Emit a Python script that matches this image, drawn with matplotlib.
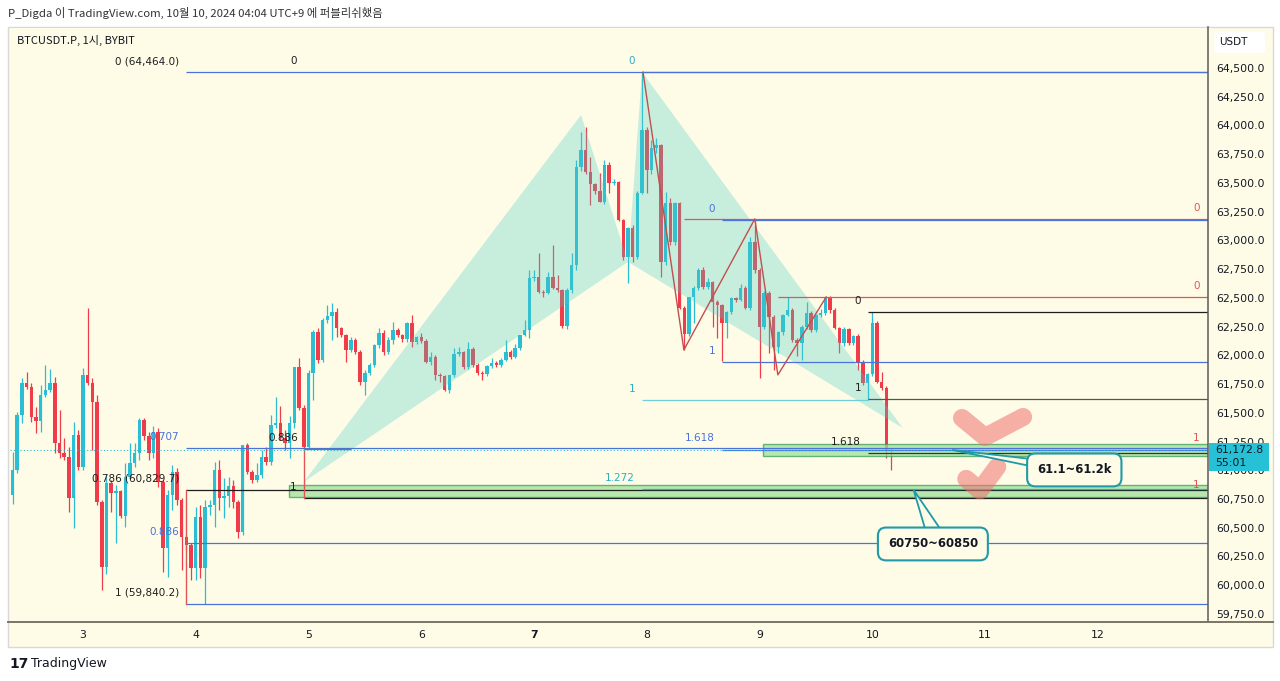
import matplotlib
matplotlib.use('Agg')
import matplotlib.pyplot as plt
import matplotlib.transforms as mtransforms
from matplotlib.patches import Rectangle, Polygon, FancyBboxPatch
import numpy as np

# ---------------- data (hourly candles, hour 0 = Oct 3 00:00) ----------------
first_hour = -15
first_open = 60786
closes = [61003, 61482, 61760, 61725, 61464, 61429, 61656, 61699, 61760, 61238, 61151, 61116,
          60759, 61308, 61029, 61830, 61760, 61595, 60725, 60159, 60890, 60803, 60820, 60603,
          60942, 61064, 61151, 61438, 61299, 61151, 61334, 60899, 60324, 60786, 60986, 60742,
          60420, 60351, 60150, 60594, 60150, 60681, 60699, 61003, 60759, 60777, 60864, 60725,
          60464, 61221, 60986, 60916, 60960, 61116, 61073, 61395, 61412, 61281, 61238, 61412,
          61899, 61542, 61203, 61847, 62204, 61960, 62308, 62343, 62378, 62238, 62178, 62047,
          62134, 62030, 61769, 61847, 61917, 62091, 62195, 62030, 62134, 62221, 62178, 62143,
          62282, 62117, 62160, 62125, 61943, 61986, 61830, 61821, 61699, 61830, 62012, 62030,
          61899, 62056, 61917, 61847, 61838, 61908, 61934, 61917, 61960, 62030, 61986, 62064,
          62178, 62221, 62673, 62682, 62552, 62543, 62682, 62586, 62569, 62256, 62569, 62786,
          63639, 63787, 63596, 63491, 63430, 63335, 63656, 63500, 63509, 63178, 62856, 63108,
          62856, 63413, 63961, 63613, 63804, 63830, 62813, 63326, 62987, 63326, 62412, 62186,
          62508, 62586, 62743, 62595, 62639, 62465, 62439, 62282, 62378, 62499, 62482, 62586,
          62412, 62987, 62743, 62247, 62543, 62334, 62073, 62204, 62352, 62395, 62134, 62108,
          62247, 62369, 62221, 62352, 62369, 62508, 62395, 62238, 62108, 62230, 62108, 62169,
          61943, 61760, 61838, 62282, 61769, 61716, 61177, 61172.8]
highs = [61160, 61508, 61803, 61856, 61760, 61551, 61743, 61917, 61882, 61812, 61525, 61281,
         61203, 61421, 61351, 61890, 62412, 61803, 61656, 60742, 60942, 60916, 60873, 60829,
         61064, 61238, 61238, 61455, 61455, 61334, 61386, 61368, 60916, 60829, 61046, 61020,
         60759, 60438, 60368, 60681, 60699, 60742, 60742, 61073, 61090, 60933, 60942, 60916,
         60742, 61221, 61238, 61003, 61064, 61177, 61203, 61482, 61638, 61560, 61351, 61473,
         61899, 61977, 61569, 61873, 62221, 62238, 62325, 62439, 62456, 62412, 62247, 62186,
         62160, 62151, 62047, 61873, 61930, 62100, 62238, 62221, 62160, 62291, 62240, 62190,
         62290, 62352, 62170, 62195, 62140, 62030, 62000, 61850, 61830, 61830, 62064, 62073,
         62040, 62117, 62070, 61930, 61860, 61920, 61977, 61950, 61975, 62134, 62045, 62100,
         62180, 62308, 62743, 62743, 62891, 62570, 62726, 62960, 62700, 62580, 62590, 62891,
         63700, 63944, 63987, 63726, 63500, 63587, 63700, 63683, 63530, 63520, 63190, 63120,
         63130, 63430, 64464, 63987, 63874, 63891, 63840, 63422, 63369, 63330, 63335, 62430,
         62508, 62600, 62760, 62769, 62673, 62650, 62480, 62450, 62390, 62510, 62510, 62620,
         62600, 63030, 63178, 62760, 62560, 62560, 62350, 62210, 62360, 62508, 62410, 62150,
         62260, 62465, 62390, 62360, 62400, 62508, 62520, 62410, 62250, 62250, 62240, 62180,
         62190, 61960, 61850, 62378, 62300, 61856, 61730, 61190]
lows = [60707, 60977, 61412, 61708, 61421, 61325, 61334, 61638, 61682, 61151, 61107, 61090,
        60638, 60498, 61003, 61003, 61743, 61177, 60699, 59959, 60098, 60638, 60368, 60585,
        60507, 60933, 61029, 61090, 61264, 61090, 61107, 60855, 60116, 60072, 60655, 60699,
        60133, 60307, 60046, 60046, 60063, 59840.2, 60612, 60507, 60655, 60585, 60681, 60672,
        60411, 60438, 60968, 60890, 60899, 60933, 61046, 61046, 61368, 61264, 61177, 61107,
        61368, 61525, 61177, 61186, 61612, 61934, 61943, 62282, 62134, 62160, 62160, 61943,
        62030, 62012, 61743, 61656, 61830, 61900, 62060, 62000, 62010, 62100, 62160, 62120,
        62120, 62073, 62100, 62110, 61930, 61920, 61786, 61769, 61690, 61673, 61810, 61995,
        61880, 61880, 61900, 61830, 61786, 61820, 61890, 61900, 61900, 61950, 61970, 61975,
        62050, 62170, 62150, 62650, 62540, 62508, 62530, 62580, 62550, 62240, 62230, 62540,
        62740, 63600, 63580, 63308, 63400, 63330, 63320, 63413, 63480, 63170, 62830, 62630,
        62813, 62840, 63400, 63413, 63580, 63760, 62682, 62790, 62960, 62960, 62400, 62047,
        62170, 62282, 62570, 62580, 62580, 62247, 62151, 61950, 62151, 62360, 62460, 62470,
        62400, 62395, 62720, 61803, 62230, 62021, 61873, 62021, 62180, 62340, 62120, 61990,
        61960, 62230, 62200, 62200, 62330, 62350, 62370, 62230, 62021, 62080, 62090, 62090,
        61873, 61740, 61612, 61820, 61760, 61700, 61107, 61003]

day_labels = ['3', '4', '5', '6', '7', '8', '9', '10', '11', '12']
day_hours = [0, 24, 48, 72, 96, 120, 144, 168, 192, 216]
price_ticks = list(range(59750, 64501, 250))
last_price = 61172.8
last_price_label = '61,172.8'
countdown = '55:01'

# Fibonacci drawings: (start hour, level prices, labels)
fibA_start = 21.9
fibA_levels = [64464.0, 61195.0, 60829.7, 60367.3, 59840.2]
fibA_labels = ['0 (64,464.0)', '0.707', '0.786 (60,829.7)', '0.886', '1 (59,840.2)']
fibB_start = 47.0
fibB_levels = [64464.0, 61186.0, 60759.0]
fibB_labels = ['0', '0.886', '1']
fibT_start = 119.0
fibT_levels = [64464.0, 61612.0, 60836.0]
fibT_labels = ['0', '1', '1.272']
fibT_level1_end = 167.1
fibBl_start = 136.0
fibBl_levels = [63178.0, 61943.0, 61180.0]
fibBl_labels = ['0', '1', '1.618']
fibR1_start = 127.9
fibR1_levels = [63187.0, 61186.0]
fibR2_start = 147.9
fibR2_levels = [62508.0, 60777.0]
fibR_labels = ['0', '1']
fibK_start = 167.1
fibK_levels = [62378.0, 61620.0, 61152.0]
fibK_labels = ['0', '1', '1.618']

# pattern triangles (hour, price)
tri1 = [(47.0, 60899), (106.0, 64092), (116.0, 62813)]
tri2 = [(116.0, 62813), (119.0, 64464), (174.5, 61368)]
zig_hours = [119.2, 127.9, 143.0, 147.9, 158.2]
zig_prices = [64464, 62047, 63187, 61830, 62508]

# zones
zone1 = (144.7, 61125, 61229)
zone2 = (43.85, 60768, 60873)
zone1_text = '61.1~61.2k'
zone2_text = '60750~60850'
call1_center = (211.0, 61003)
call1_tail = [(185.0, 61177), (202.5, 61095), (202.5, 61030)]
call2_center = (180.9, 60359)
call2_tail = [(176.8, 60829), (179.4, 60470), (182.8, 60470)]
check1_h = [187.1, 192.0, 200.1]
check1_p = [61455, 61290, 61464]
check2_h = [188.0, 190.9, 194.6]
check2_p = [60925, 60825, 61030]

# ---------------- style ----------------
W, H = 1280, 681
BG = '#fefce7'
UP = '#2bbdd3'
DN = '#ef3b4a'
BLUE = '#4a72d9'
BLACK = '#1e1e1e'
TEAL = '#2ab0c0'
RED = '#e05555'
TXT = '#131722'

fig = plt.figure(figsize=(12.8, 6.81), dpi=100)
fig.patch.set_facecolor('white')


def fx(x):
    return x / W


def fy(y):
    return 1 - y / H


fig.patches.append(Rectangle((fx(8), fy(647)), (1273 - 8) / W, (647 - 27) / H,
                             transform=fig.transFigure, fc=BG, ec='#d8d8d8', lw=1, zorder=-5))

ax = fig.add_axes([fx(10), fy(622), 1198 / W, 594 / H])
ax.set_zorder(1)
ax.set_facecolor(BG)
ax.set_xlim(-15.54, 239.46)
ax.set_ylim(59680, 64848)
for s in ax.spines.values():
    s.set_visible(False)

# candles
n = len(closes)
hours = np.arange(n) + first_hour
c = np.array(closes, dtype=float)
o = np.concatenate([[first_open], c[:-1]])
hi = np.maximum(np.array(highs, dtype=float), np.maximum(o, c))
lo = np.minimum(np.array(lows, dtype=float), np.minimum(o, c))
up = c >= o
cols = np.where(up, UP, DN)
body_bot = np.minimum(o, c)
body_h = np.maximum(np.abs(c - o), 8)
ax.vlines(hours, lo, hi, colors=cols, lw=0.9, zorder=3)
ax.bar(hours, body_h, bottom=body_bot, width=0.74, color=cols, linewidth=0, zorder=3.2)

# pattern fills (above candles, translucent)
for tri in (tri1, tri2):
    ax.add_patch(Polygon(tri, closed=True, fc='#48cdc6', ec='none', alpha=0.3, zorder=4))

XR = 239.46
# green zones
for (h0, p0, p1) in (zone1, zone2):
    ax.add_patch(Rectangle((h0, p0), XR - h0, p1 - p0, fc='#9fe09a', ec='#3c9f5a',
                           lw=1, alpha=0.75, zorder=4.5))


def hline(level, start, end=XR, color=BLUE, lw=0.9, z=5):
    ax.plot([start, end], [level, level], color=color, lw=lw, zorder=z, solid_capstyle='butt')


def flabel(text, start, level, color, size=7.5, dx=-5):
    ax.annotate(text, xy=(start, level), xytext=(dx, 8), textcoords='offset points',
                ha='right', va='center', color=color, fontsize=size, zorder=7)


# fib A
fa_line_cols = [BLUE, BLUE, BLACK, BLUE, BLUE]
fa_lab_cols = [BLACK, BLUE, BLACK, BLUE, BLACK]
for lv, lb, lc, tc in zip(fibA_levels, fibA_labels, fa_line_cols, fa_lab_cols):
    hline(lv, fibA_start, color=lc)
    flabel(lb, fibA_start, lv, tc)
ax.plot([fibA_start, fibA_start], [fibA_levels[2], fibA_levels[4]], color=RED, lw=1, zorder=5)

# fib B
hline(fibB_levels[1], fibB_start, fibB_start + 10, color='#777777')
hline(fibB_levels[2], fibB_start, color=BLACK)
flabel(fibB_labels[0], fibB_start, fibB_levels[0], BLACK)
flabel(fibB_labels[1], fibB_start, fibB_levels[1], BLACK, dx=-4)
flabel(fibB_labels[2], fibB_start, fibB_levels[2], BLACK)
ax.plot([fibB_start, fibB_start], [fibB_levels[1], fibB_levels[2]], color=RED, lw=1, zorder=5)

# red fibs (labels at right edge; level-1 lines hidden under the zones)
for start, lvls in ((fibR1_start, fibR1_levels), (fibR2_start, fibR2_levels)):
    hline(lvls[0], start, color=RED, lw=0.9, z=4.8)
    for lv, lb in zip(lvls, fibR_labels):
        ax.annotate(lb, xy=(1.0, lv), xycoords=('axes fraction', 'data'), xytext=(-6, 8),
                    textcoords='offset points', ha='right', va='center', color=RED,
                    fontsize=7.5, zorder=7)

# teal fib
hline(fibT_levels[0], fibT_start, color=BLUE)
hline(fibT_levels[1], fibT_start, fibT_level1_end, color='#6fcfd6')
hline(fibT_levels[2], fibT_start, color=TEAL)
for lv, lb in zip(fibT_levels, fibT_labels):
    flabel(lb, fibT_start, lv, TEAL)

# blue fib
for lv, lb in zip(fibBl_levels, fibBl_labels):
    hline(lv, fibBl_start, color=BLUE)
    flabel(lb, fibBl_start, lv, BLUE)

# black fib
k_cols = [BLACK, '#555555', '#333333']
for lv, lb, kc in zip(fibK_levels, fibK_labels, k_cols):
    hline(lv, fibK_start, color=kc)
    flabel(lb, fibK_start, lv, BLACK)

# zigzag
ax.plot(zig_hours, zig_prices, color='#c0504d', lw=1, zorder=5)

# last price dotted line
ax.axhline(last_price, color=UP, lw=0.8, ls=(0, (1, 2)), zorder=5)

# checkmarks
for hh, pp in ((check1_h, check1_p), (check2_h, check2_p)):
    ax.plot(hh, pp, color='#f07070', lw=13, alpha=0.55, solid_capstyle='round',
            solid_joinstyle='round', zorder=6)

# callouts
for tail, center, txt in ((call1_tail, call1_center, zone1_text),
                          (call2_tail, call2_center, zone2_text)):
    ax.add_patch(Polygon(tail, closed=True, fc=BG, ec='#1f9aa6', lw=1.3, zorder=8))
    ax.text(center[0], center[1], txt, ha='center', va='center', fontsize=8.4,
            color=TXT, fontweight='bold', zorder=9,
            bbox=dict(boxstyle='round,pad=0.85,rounding_size=0.7', fc=BG, ec='#1f9aa6', lw=1.5))

# axes ticks
ax.set_yticks(price_ticks)
ax.set_yticklabels([f'{v:,.1f}' for v in price_ticks])
ax.yaxis.tick_right()
ax.tick_params(axis='y', length=0, pad=6, labelsize=7.8, colors=TXT)
ax.set_xticks(day_hours)
ax.set_xticklabels(day_labels)
ax.tick_params(axis='x', length=0, pad=5.5, labelsize=7.8, colors=TXT)
for t in ax.get_xticklabels():
    if t.get_text() == '7':
        t.set_fontweight('bold')

# last price label in axis strip
btr = mtransforms.blended_transform_factory(ax.transAxes, ax.transData)
ax.add_patch(Rectangle((1.0008, 60995), 0.05, 242, transform=btr, fc='#26c1d6', ec='none',
                       clip_on=False, zorder=10))
ax.text(1.0058, last_price, last_price_label, transform=btr, ha='left', va='center',
        fontsize=7.8, color=TXT, zorder=11, clip_on=False)
ax.text(1.0058, 61064, countdown, transform=btr, ha='left', va='center',
        fontsize=7.8, color=TXT, zorder=11, clip_on=False)

# frame separators
fig.add_artist(plt.Line2D([fx(1208), fx(1208)], [fy(27), fy(622)], transform=fig.transFigure,
                          color='#5a5a5a', lw=1.1, zorder=5))
fig.add_artist(plt.Line2D([fx(8), fx(1273)], [fy(622), fy(622)], transform=fig.transFigure,
                          color='#7a7566', lw=1.4, zorder=5))

# USDT box
fig.patches.append(FancyBboxPatch((fx(1214), fy(53)), (1265 - 1214) / W, (53 - 32) / H,
                                  boxstyle='round,pad=0,rounding_size=0.004',
                                  transform=fig.transFigure, fc='white', ec='none', zorder=2))
fig.text(fx(1219), fy(42), 'USDT', fontsize=7.5, color=TXT, va='center', ha='left', zorder=6)

# header texts
KFONT = ['Noto Sans CJK KR', 'DejaVu Sans']
fig.text(fx(8), fy(13), 'P_Digda 이 TradingView.com, 10월 10, 2024 04:04 UTC+9 에 퍼블리쉬했음',
         fontsize=8.2, color='#333333', va='center', ha='left', family=KFONT)
fig.text(fx(17), fy(40), 'BTCUSDT.P, 1시, BYBIT', fontsize=8, color=TXT, va='center',
         ha='left', family=KFONT, zorder=6)

# footer
fig.text(fx(9), fy(664), '17', fontsize=10, fontweight='heavy', color='#131722',
         va='center', ha='left')
fig.text(fx(31), fy(664), 'TradingView', fontsize=9, color='#131722', va='center', ha='left')

fig.savefig('out.png', dpi=100, facecolor='white')
